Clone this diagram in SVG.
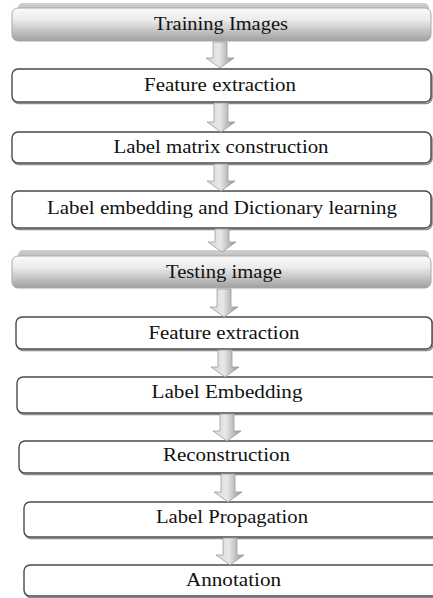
<svg xmlns="http://www.w3.org/2000/svg" width="433" height="598" viewBox="0 0 433 598">
<defs>
<linearGradient id="body" x1="0" y1="0" x2="0" y2="1">
<stop offset="0" stop-color="#fbfbfb"/>
<stop offset="0.35" stop-color="#ececec"/>
<stop offset="1" stop-color="#9f9f9f"/>
</linearGradient>
<linearGradient id="band" x1="0" y1="0" x2="0" y2="1">
<stop offset="0" stop-color="#d0d0d0"/>
<stop offset="1" stop-color="#999999"/>
</linearGradient>
<linearGradient id="arr" x1="0" y1="0" x2="1" y2="0">
<stop offset="0" stop-color="#d6d6d6"/>
<stop offset="0.45" stop-color="#e8e8e8"/>
<stop offset="1" stop-color="#939393"/>
</linearGradient>
</defs>
<style>
.box{fill:#ffffff;stroke:#4a4a4a;stroke-width:1.4}
.shadow{fill:none;stroke:#8a8a8a;stroke-width:1.6}
.gbody{fill:url(#body);stroke:#a8a8a8;stroke-width:1}
.gband{fill:url(#band);stroke:none}
.arrow{fill:url(#arr);stroke:#9c9c9c;stroke-width:0.8}
text{font-family:"Liberation Serif","Times New Roman",serif;font-size:19.5px;fill:#111111;text-anchor:middle}
</style>
<rect width="433" height="598" fill="#ffffff"/>

<g id="node-training">
<rect class="gband" x="18" y="3" width="411" height="22" rx="5"/>
<rect class="gbody" x="12" y="8" width="419" height="33" rx="6"/>
<text x="221" y="30" textLength="134" lengthAdjust="spacingAndGlyphs">Training Images</text>
</g>

<g id="node-feature1">
<rect class="shadow" x="13" y="70.5" width="419" height="33" rx="6"/>
<rect class="box" x="12" y="69" width="419" height="33" rx="6"/>
<text x="220" y="91" textLength="152" lengthAdjust="spacingAndGlyphs">Feature extraction</text>
</g>

<g id="node-labelmatrix">
<rect class="shadow" x="13" y="133.5" width="419" height="31" rx="6"/>
<rect class="box" x="12" y="132" width="419" height="31" rx="6"/>
<text x="221" y="153" textLength="215" lengthAdjust="spacingAndGlyphs">Label matrix construction</text>
</g>

<g id="node-embedding-dict">
<rect class="shadow" x="13" y="192.5" width="419" height="37" rx="6"/>
<rect class="box" x="12" y="191" width="419" height="37" rx="6"/>
<text x="222" y="214" textLength="350" lengthAdjust="spacingAndGlyphs">Label embedding and Dictionary learning</text>
</g>

<g id="node-testing">
<rect class="gband" x="18" y="250" width="411" height="22" rx="5"/>
<rect class="gbody" x="12" y="256" width="419" height="32" rx="6"/>
<text x="224" y="278" textLength="116" lengthAdjust="spacingAndGlyphs">Testing image</text>
</g>

<g id="node-feature2">
<rect class="shadow" x="17" y="318.5" width="416" height="32" rx="6"/>
<rect class="box" x="16" y="317" width="416" height="32" rx="6"/>
<text x="224" y="339" textLength="151" lengthAdjust="spacingAndGlyphs">Feature extraction</text>
</g>

<g id="node-labelembedding">
<rect class="shadow" x="18" y="378.5" width="420" height="36" rx="6"/>
<rect class="box" x="17" y="377" width="420" height="36" rx="6"/>
<text x="227" y="398" textLength="151" lengthAdjust="spacingAndGlyphs">Label Embedding</text>
</g>

<g id="node-reconstruction">
<rect class="shadow" x="20" y="442.5" width="420" height="32" rx="6"/>
<rect class="box" x="19" y="441" width="420" height="32" rx="6"/>
<text x="226.5" y="461" textLength="127" lengthAdjust="spacingAndGlyphs">Reconstruction</text>
</g>

<g id="node-propagation">
<rect class="shadow" x="25" y="503.5" width="420" height="35" rx="6"/>
<rect class="box" x="24" y="502" width="420" height="35" rx="6"/>
<text x="232" y="523" textLength="152" lengthAdjust="spacingAndGlyphs">Label Propagation</text>
</g>

<g id="node-annotation">
<rect class="shadow" x="25" y="566.5" width="420" height="31" rx="6"/>
<rect class="box" x="24" y="565" width="420" height="31" rx="6"/>
<text x="233.5" y="586" textLength="95" lengthAdjust="spacingAndGlyphs">Annotation</text>
</g>

<g id="connectors">
<path class="arrow" d="M213,42 L227,42 L227,58 L234,58 L220,68 L206,58 L213,58 Z"/>
<path class="arrow" d="M214,103 L228,103 L228,122 L235,122 L221,132 L207,122 L214,122 Z"/>
<path class="arrow" d="M214,164 L228,164 L228,181 L235,181 L221,191 L207,181 L214,181 Z"/>
<path class="arrow" d="M215,229 L229,229 L229,242 L236,242 L222,252 L208,242 L215,242 Z"/>
<path class="arrow" d="M217,289 L231,289 L231,307 L238,307 L224,317 L210,307 L217,307 Z"/>
<path class="arrow" d="M218,350 L232,350 L232,367 L239,367 L225,377 L211,367 L218,367 Z"/>
<path class="arrow" d="M220,414 L234,414 L234,431 L241,431 L227,441 L213,431 L220,431 Z"/>
<path class="arrow" d="M221,474 L235,474 L235,492 L242,492 L228,502 L214,492 L221,492 Z"/>
<path class="arrow" d="M223,538 L237,538 L237,555 L244,555 L230,565 L216,555 L223,555 Z"/>
</g>
</svg>
